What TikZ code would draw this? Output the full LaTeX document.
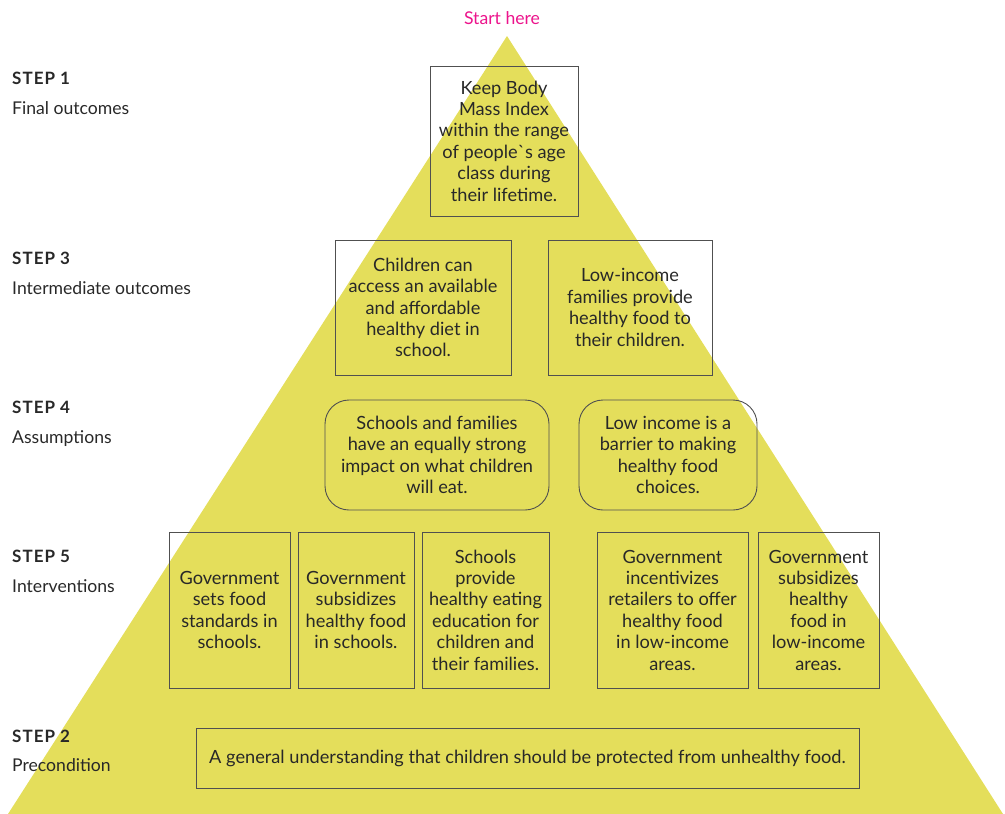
\documentclass[tikz,border=0pt]{standalone}
\usepackage{fontspec}
\setmainfont{Lato}
\usepackage{tikz}
\definecolor{pyramid}{RGB}{228,222,91}
\definecolor{starttext}{RGB}{236,20,140}
\definecolor{inktext}{RGB}{40,40,40}
\definecolor{boxline}{RGB}{80,80,80}
\tikzset{
  txt/.style={font=\fontsize{18.2}{21.4}\selectfont, text=inktext, align=center, inner sep=0pt},
  box/.style={txt, draw=boxline, line width=0.9pt},
  roundbox/.style={box, rounded corners=24pt},
  steptitle/.style={font=\fontsize{17}{19}\selectfont\bfseries\addfontfeatures{LetterSpace=6}, text=inktext, anchor=base west, inner sep=0pt},
  stepname/.style={font=\fontsize{17.6}{19}\selectfont, text=inktext, anchor=base west, inner sep=0pt},
}
\begin{document}
\begin{tikzpicture}[x=1pt,y=-1pt]
    \useasboundingbox (0,0) rectangle (1005,814);
    % --- PYRAMID ---
    \fill[pyramid] (507,36) coordinate (apex) -- (8,814) -- (1003,814) -- cycle;
    \node[txt, font=\fontsize{17.6}{19}\selectfont, text=starttext, anchor=base] (start) at (502,24) {Start here};

    % --- STEP LABELS (LEFT) ---
    \node[steptitle] (s1) at (12,84) {STEP 1};
    \node[stepname] (n1) at (12,114) {Final outcomes};
    \node[steptitle] (s3) at (12,264) {STEP 3};
    \node[stepname] (n3) at (12,294) {Intermediate outcomes};
    \node[steptitle] (s4) at (12,413) {STEP 4};
    \node[stepname] (n4) at (12,443) {Assumptions};
    \node[steptitle] (s5) at (12,562) {STEP 5};
    \node[stepname] (n5) at (12,592) {Interventions};
    \node[steptitle] (s2) at (12,742) {STEP 2};
    \node[stepname] (n2) at (12,771) {Precondition};

    % --- STEP 1 ---
    \node[box, minimum width=148pt, minimum height=150pt] (bmi) at (504,141)
        {Keep Body\\Mass Index\\within the range\\of people\textasciigrave s age\\class during\\their lifetime.};

    % --- STEP 3 ---
    \node[box, minimum width=176pt, minimum height=135pt] (school) at (423,307.5)
        {Children can\\access an available\\and affordable\\healthy diet in\\school.};
    \node[box, minimum width=164pt, minimum height=135pt] (family) at (630,307.5)
        {Low-income\\families provide\\healthy food to\\their children.};

    % --- STEP 4 ---
    \node[roundbox, minimum width=224pt, minimum height=110pt] (impact) at (437,455)
        {Schools and families\\have an equally strong\\impact on what children\\will eat.};
    \node[roundbox, minimum width=178pt, minimum height=110pt] (barrier) at (668,455)
        {Low income is a\\barrier to making\\healthy food\\choices.};

    % --- STEP 5 ---
    \node[box, minimum width=121pt, minimum height=156pt] (standards) at (229.5,610)
        {Government\\sets food\\standards in\\schools.};
    \node[box, minimum width=116pt, minimum height=156pt] (subschool) at (356,610)
        {Government\\subsidizes\\healthy food\\in schools.};
    \node[box, minimum width=127pt, minimum height=156pt] (education) at (485.5,610)
        {Schools\\provide\\healthy eating\\education for\\children and\\their families.};
    \node[box, minimum width=151pt, minimum height=156pt] (retail) at (672.5,610)
        {Government\\incentivizes\\retailers to offer\\healthy food\\in low-income\\areas.};
    \node[box, minimum width=121pt, minimum height=156pt] (sublow) at (818.5,610)
        {Government\\subsidizes\\healthy\\food in\\low-income\\areas.};

    % --- STEP 2 ---
    \node[box, minimum width=663pt, minimum height=60pt] (precond) at (527.5,758)
        {A general understanding that children should be protected from unhealthy food.};
\end{tikzpicture}
\end{document}
